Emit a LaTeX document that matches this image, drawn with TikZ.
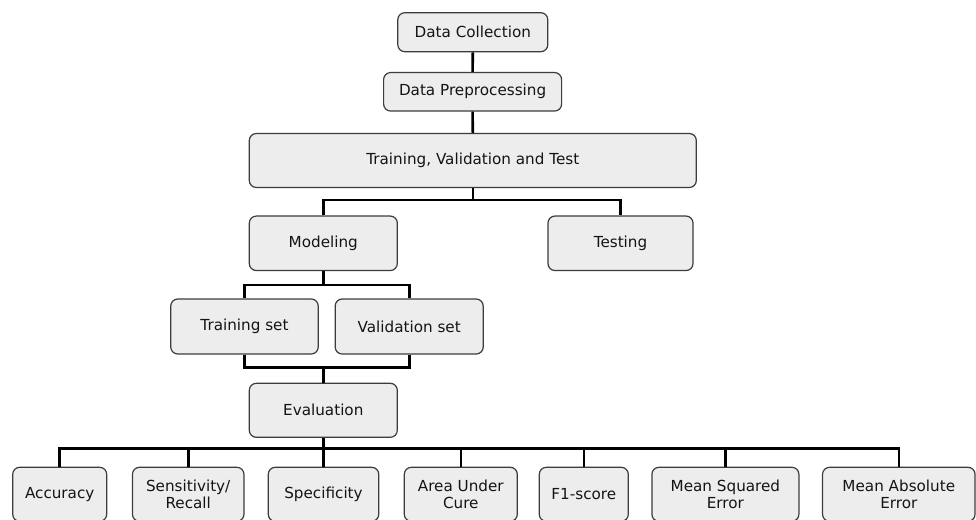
\documentclass[tikz,border=0pt]{standalone}
\usepackage{fontspec}
\setmainfont{DejaVu Sans}
\definecolor{boxfill}{RGB}{237,237,237}
\definecolor{boxline}{RGB}{60,60,60}
\definecolor{txt}{RGB}{20,20,20}
\tikzset{
  box/.style={draw=boxline, fill=boxfill, line width=1.2pt, rounded corners=7pt,
    rectangle, inner sep=0pt, align=center, text=txt,
    font=\fontsize{15.2}{17.5}\selectfont},
  conn/.style={line width=2.6pt, black, line join=miter}
}
\begin{document}
\begin{tikzpicture}[x=1pt,y=-1pt]
\clip (0,0) rectangle (976,519);
\fill[white] (0,0) rectangle (976,519);
% nodes
\node[box, minimum width=150pt, minimum height=39pt] (dc) at (472.8,32.2) {Data Collection};
\node[box, minimum width=178pt, minimum height=38.5pt] (dp) at (472.6,91.8) {Data Preprocessing};
\node[box, minimum width=447pt, minimum height=54pt] (tvt) at (472.8,160.5) {Training, Validation and Test};
\node[box, minimum width=148pt, minimum height=54.5pt] (mod) at (323.3,243.3) {Modeling};
\node[box, minimum width=145pt, minimum height=54.5pt] (test) at (620.5,243.3) {Testing};
\node[box, minimum width=147.5pt, minimum height=55pt] (ts) at (244.5,326.5) {Training set};
\node[box, minimum width=148pt, minimum height=55pt] (vs) at (409.2,326.5) {Validation set};
\node[box, minimum width=148pt, minimum height=54pt] (ev) at (323.3,410.3) {Evaluation};
\node[box, minimum width=94pt, minimum height=54pt] (acc) at (59.7,494.3) {Accuracy};
\node[box, minimum width=111.5pt, minimum height=54pt] (sens) at (188.2,494.3) {Sensitivity/\\Recall};
\node[box, minimum width=110.5pt, minimum height=54pt] (spec) at (323.5,494.3) {Specificity};
\node[box, minimum width=113pt, minimum height=54pt] (auc) at (460.8,494.3) {Area Under\\Cure};
\node[box, minimum width=89pt, minimum height=54pt] (f1) at (583.8,494.3) {F1-score};
\node[box, minimum width=147pt, minimum height=54pt] (mse) at (725.4,494.3) {Mean Squared\\Error};
\node[box, minimum width=152.5pt, minimum height=54pt] (mae) at (898.8,494.3) {Mean Absolute\\Error};
% bus coordinates
\coordinate (b1) at (472.8,200);
\coordinate (b2) at (323.3,285);
\coordinate (b3) at (323.3,367.3);
\coordinate (b4) at (323.3,448.3);
% connectors
\draw[conn] (dc.south) -- (dp.north);
\draw[conn] (dp.south) -- (tvt.north);
\draw[conn] (tvt.south) -- (b1);
\draw[conn] (mod.north) |- (b1) -| (test.north);
\draw[conn] (mod.south) -- (b2);
\draw[conn] (ts.north) |- (b2) -| (vs.north);
\draw[conn] (ts.south) |- (b3) -| (vs.south);
\draw[conn] (b3) -- (ev.north);
\draw[conn] (ev.south) -- (b4);
\draw[conn] (acc.north) |- (b4) -| (mae.north);
\foreach \n in {sens,spec,auc,f1,mse} {
  \draw[conn] (\n.north) -- (\n.north |- b4);
}
\end{tikzpicture}
\end{document}
